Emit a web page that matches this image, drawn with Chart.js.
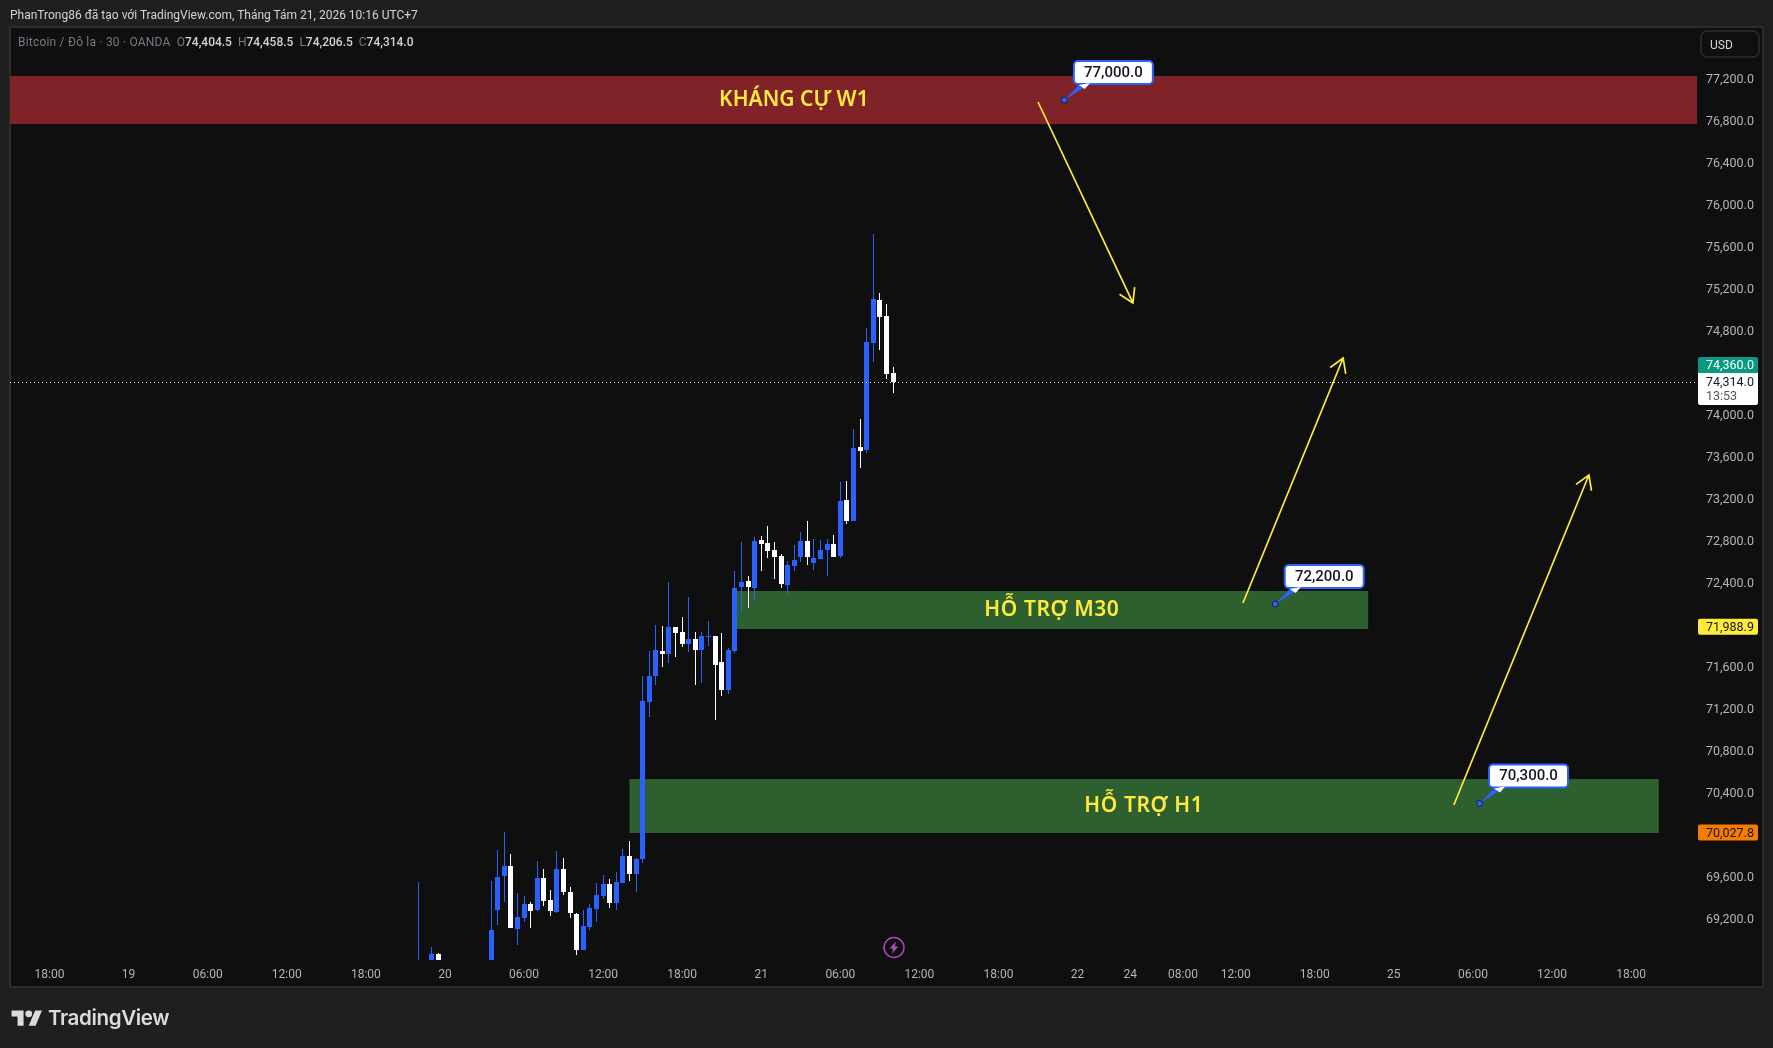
<!DOCTYPE html>
<html>
<head>
<meta charset="utf-8">
<title>BTCUSD</title>
<script src="https://cdn.jsdelivr.net/npm/chart.js@4/dist/chart.umd.min.js"></script>
<style>
  html, body { margin: 0; padding: 0; background: #1f1f1f; overflow: hidden; }
  #wrap { position: relative; width: 1773px; height: 1048px; }
  canvas { position: absolute; left: 0; top: 0; }
  .txt { position: absolute; white-space: pre; font-family: Roboto, sans-serif; font-size: 12px; }
  #head { left: 10px; top: 8px; color: #d1d4dc; }
  #legend { left: 18px; top: 35px; color: #787b86; }
  #legend span { letter-spacing: 0.2px; }
  #legend b { color: #d1d4dc; font-weight: 500; }
  #logo { position: absolute; left: 11px; top: 1007px; }
  #brand { left: 48px; top: 1005px; color: #dbdbdb; font-family: Inter, sans-serif; font-size: 20.6px; font-weight: 600; letter-spacing: -0.4px; }
</style>
</head>
<body>
<div id="wrap">
  <canvas id="btc" width="1773" height="1048"></canvas>
  <div class="txt" id="head">PhanTrong86 đã tạo với TradingView.com, Tháng Tám 21, 2026 10:16 UTC+7</div>
  <div class="txt" id="legend"><span>Bitcoin / Đô la · 30 · OANDA </span> O<b>74,404.5</b>  H<b>74,458.5</b>  L<b>74,206.5</b>  C<b>74,314.0</b></div>
  <svg id="logo" width="32" height="24" viewBox="0 0 36 28"><path fill="#dbdbdb" d="M14 22H7V11H0V4h14v18zM28 22h-8l7.5-18h8L28 22z"/><circle fill="#dbdbdb" cx="20" cy="8" r="4"/></svg>
  <div class="txt" id="brand">TradingView</div>
</div>
<script>
// 30 minute bars, slot = position on the time axis
const barSlots = [62, 64, 65, 73, 74, 75, 76, 77, 78, 79, 80, 81, 82, 83, 84, 85, 86, 87, 88, 89, 90, 91, 92, 93, 94, 95, 96, 97, 98, 99,
  100, 101, 102, 103, 104, 105, 106, 107, 108, 109, 110, 111, 112, 113, 114, 115, 116, 117, 118, 119, 120, 121, 122, 123, 124, 125, 126, 127, 128, 129,
  130, 131, 132, 133, 134];
const opens = [68700, 68700, 68867, 68700, 69286, 69610, 69705, 69105, 69210, 69343, 69286, 69591, 69381, 69267, 69676, 69457, 69248, 68905, 69124, 69295, 69419, 69533, 69352, 69543, 69800, 69629, 69771, 71266, 71514, 71752,
  71724, 71981, 71933, 71819, 71867, 71762, 71885, 71895, 71647, 71381, 71752, 72362, 72419, 72352, 72809, 72781, 72714, 72657, 72381, 72562, 72648, 72800, 72590, 72629, 72714, 72771, 72657, 73190, 72990, 73695,
  73666, 74686, 75095, 74943, 74404.5];
const highs = [69552, 68933, 68876, 69562, 69857, 70029, 69819, 69448, 69419, 69362, 69752, 69676, 69476, 69848, 69781, 69505, 69257, 69286, 69343, 69543, 69619, 69581, 69648, 69867, 69943, 69781, 71514, 71752, 72000, 71990,
  72409, 71981, 72076, 72267, 71933, 71933, 72038, 71895, 71924, 71781, 72514, 72790, 72467, 72838, 72848, 72943, 72790, 72676, 72609, 72762, 72886, 72990, 72819, 72809, 72819, 72857, 73362, 73371, 73866, 73962,
  74828, 75724, 75162, 75057, 74458.5];
const lows = [68600, 68600, 68600, 68600, 69143, 69362, 69114, 68952, 69171, 69114, 69276, 69324, 69229, 69257, 69429, 69210, 68857, 68905, 69095, 69171, 69390, 69305, 69286, 69543, 69562, 69457, 69733, 71124, 71428, 71600,
  71638, 71695, 71790, 71743, 71428, 71447, 71800, 71095, 71324, 71343, 71733, 72124, 72162, 72238, 72514, 72638, 72438, 72352, 72295, 72514, 72600, 72571, 72524, 72629, 72467, 72648, 72638, 72962, 72990, 73495,
  73638, 74505, 74619, 74343, 74206.5];
const closes = [68750, 68867, 68700, 69095, 69600, 69705, 69114, 69219, 69343, 69276, 69591, 69371, 69276, 69676, 69457, 69257, 68905, 69133, 69305, 69429, 69533, 69352, 69552, 69800, 69629, 69771, 71276, 71514, 71762, 71724,
  71981, 71924, 71819, 71867, 71762, 71895, 71895, 71619, 71381, 71762, 72352, 72409, 72362, 72800, 72771, 72705, 72648, 72390, 72571, 72619, 72800, 72648, 72638, 72714, 72771, 72648, 73181, 72990, 73685, 73657,
  74695, 75105, 74933, 74390, 74314];

const slotCount = 257;
const timeSlots = [6, 18, 30, 42, 54, 66, 78, 90, 102, 114, 126, 138, 150, 162, 170, 178, 186, 198, 210, 222, 234, 246];
const timeNames = ["18:00", "19", "06:00", "12:00", "18:00", "20", "06:00", "12:00", "18:00", "21", "06:00", "12:00", "18:00", "22", "24", "08:00", "12:00", "18:00", "25", "06:00", "12:00", "18:00"];
// 70,000 / 72,000 / 74,400 sit behind the price tags in the picture
const priceTicks = [69200, 69600, 70400, 70800, 71200, 71600, 72400, 72800, 73200, 73600, 74000, 74800, 75200, 75600, 76000, 76400, 76800, 77200];

const zoneNames = ["KHÁNG CỰ W1", "HỖ TRỢ M30", "HỖ TRỢ H1"];
const zoneTop = [77229, 72324, 70533];
const zoneBottom = [76771, 71962, 70019];
const zoneStart = [0, 110, 94];
const zoneEnd = [256, 206.1, 250.2];
const zoneLabelSlot = [118.95, 158.1, 172.05];

const arrowFromSlot = [156, 187.1, 219.1];
const arrowFromPrice = [76981, 72210, 70286];
const arrowToSlot = [170.4, 202.3, 239.6];
const arrowToPrice = [75067, 74543, 73429];

const noteSlots = [160, 192, 223];
const notePrices = [77000, 72200, 70300];

const lastClose = 74314;
const tagPrices = [71988.9, 70027.8];
const tagColors = ["#ffeb3b", "#f57c00"];
const yMin = 68809.5, yMax = 77695.2;

const BLUE = "#2962ff", WHITE = "#ffffff", YELLOW = "#ffeb3b";

const categories = [];
const bodyData = [];
const wickData = [];
const barColors = [];
for (let i = 0; i < slotCount; i++) {
    categories.push(String(i));
    const n = barSlots.indexOf(i);
    if (n < 0) {
        bodyData.push(null);
        wickData.push(null);
        barColors.push(BLUE);
    } else {
        bodyData.push([opens[n], closes[n]]);
        wickData.push([lows[n], highs[n]]);
        barColors.push(closes[n] >= opens[n] ? BLUE : WHITE);
    }
}

function fmt(v) {
    return v.toLocaleString("en-US", { minimumFractionDigits: 1, maximumFractionDigits: 1 });
}

function roundBox(c, x, y, w, h, r) {
    c.beginPath();
    c.roundRect(x, y, w, h, r);
}

// background panels and zones go under the candles
const underlay = {
    id: "underlay",
    beforeDraw(chart) {
        const c = chart.ctx;
        c.save();
        c.fillStyle = "#0f0f0f";
        c.fillRect(10, 27, 1753, 960);
        c.strokeStyle = "#2c2c2c";
        c.lineWidth = 2;
        c.strokeRect(10, 27, 1753, 960);
        c.restore();
    },
    beforeDatasetsDraw(chart) {
        const c = chart.ctx, x = chart.scales.x, y = chart.scales.y;
        // snap candles to whole pixels so the wicks stay sharp
        chart.data.datasets.forEach((ds, i) => {
            chart.getDatasetMeta(i).data.forEach(el => {
                el.x = Math.floor(el.x) + 0.5;
                el.y = Math.round(el.y);
                el.base = Math.round(el.base);
            });
        });
        c.save();
        zoneNames.forEach((name, i) => {
            c.fillStyle = i === 0 ? "#7f2329" : "#2e5f2e";
            const left = x.getPixelForValue(zoneStart[i]), right = x.getPixelForValue(zoneEnd[i]);
            const top = y.getPixelForValue(zoneTop[i]), bottom = y.getPixelForValue(zoneBottom[i]);
            c.fillRect(left, top, right - left, bottom - top);
        });
        c.restore();
    }
};

// drawings and price tags go over the candles
const overlay = {
    id: "overlay",
    afterDatasetsDraw(chart) {
        const c = chart.ctx, x = chart.scales.x, y = chart.scales.y;
        c.save();

        // last price line
        const lastY = y.getPixelForValue(lastClose);
        c.strokeStyle = "#ffffff";
        c.lineWidth = 1;
        c.setLineDash([1, 3]);
        c.beginPath();
        c.moveTo(10, Math.round(lastY) + 0.5);
        c.lineTo(1696, Math.round(lastY) + 0.5);
        c.stroke();
        c.setLineDash([]);

        // zone labels
        c.fillStyle = YELLOW;
        c.font = "600 21px 'Noto Sans'";
        c.textAlign = "center";
        c.textBaseline = "middle";
        zoneNames.forEach((name, i) => {
            const mid = (zoneTop[i] + zoneBottom[i]) / 2;
            c.letterSpacing = i === 0 ? "0px" : "0.6px";
            c.fillText(name, x.getPixelForValue(zoneLabelSlot[i]), y.getPixelForValue(mid));
        });
        c.letterSpacing = "0px";

        // arrows
        c.strokeStyle = YELLOW;
        c.lineWidth = 1.7;
        arrowFromSlot.forEach((s, i) => {
            const ax = x.getPixelForValue(s), ay = y.getPixelForValue(arrowFromPrice[i]);
            const bx = x.getPixelForValue(arrowToSlot[i]), by = y.getPixelForValue(arrowToPrice[i]);
            const ang = Math.atan2(by - ay, bx - ax);
            c.beginPath();
            c.moveTo(ax, ay);
            c.lineTo(bx, by);
            c.moveTo(bx - 16 * Math.cos(ang - 0.55), by - 16 * Math.sin(ang - 0.55));
            c.lineTo(bx, by);
            c.lineTo(bx - 16 * Math.cos(ang + 0.55), by - 16 * Math.sin(ang + 0.55));
            c.stroke();
        });

        // price notes
        noteSlots.forEach((s, i) => {
            const ax = x.getPixelForValue(s), ay = y.getPixelForValue(notePrices[i]);
            const bx = ax + 9.5, by = ay - 39;
            c.fillStyle = BLUE;
            c.beginPath();
            c.moveTo(ax, ay);
            c.lineTo(bx + 6, by + 23);
            c.lineTo(bx + 16, by + 23);
            c.closePath();
            c.fill();
            c.strokeStyle = BLUE;
            c.lineWidth = 2;
            c.fillStyle = "#ffffff";
            roundBox(c, bx, by, 79, 23, 4);
            c.fill();
            c.stroke();
            c.fillStyle = "#ffffff";
            c.beginPath();
            c.moveTo(bx + 5, by + 24);
            c.lineTo(bx + 11, by + 28);
            c.lineTo(bx + 16, by + 22);
            c.closePath();
            c.fill();
            c.fillStyle = BLUE;
            c.strokeStyle = "#10204a";
            c.lineWidth = 1;
            c.beginPath();
            c.arc(ax, ay, 3, 0, Math.PI * 2);
            c.fill();
            c.stroke();
            c.fillStyle = "#131722";
            c.font = "500 15px Roboto";
            c.textAlign = "center";
            c.textBaseline = "middle";
            c.fillText(fmt(notePrices[i]), bx + 39.5, by + 12);
        });

        // bolt icon
        c.strokeStyle = "#ab47bc";
        c.lineWidth = 1.5;
        c.beginPath();
        c.arc(894, 947.5, 10, 0, Math.PI * 2);
        c.stroke();
        c.fillStyle = "#ab47bc";
        c.beginPath();
        c.moveTo(896, 941.5);
        c.lineTo(889.5, 948.5);
        c.lineTo(893, 948.5);
        c.lineTo(892, 953.5);
        c.lineTo(898.5, 946.5);
        c.lineTo(895, 946.5);
        c.closePath();
        c.fill();

        // price axis tags
        c.textAlign = "left";
        c.textBaseline = "middle";
        c.font = "12.5px Roboto";
        c.fillStyle = "#089981";
        roundBox(c, 1698, 357, 60, 16, [2, 2, 0, 0]);
        c.fill();
        c.fillStyle = "#ffffff";
        c.fillText("74,360.0", 1706, 365.5);
        roundBox(c, 1698, 373, 60, 32, [0, 0, 2, 2]);
        c.fill();
        c.fillStyle = "#131722";
        c.fillText(fmt(lastClose), 1706, 383);
        c.fillStyle = "#555555";
        c.fillText("13:53", 1706, 397);
        tagPrices.forEach((p, i) => {
            const py = y.getPixelForValue(p);
            c.fillStyle = tagColors[i];
            roundBox(c, 1698, py - 7.5, 60, 16, 2);
            c.fill();
            c.fillStyle = "#131722";
            c.fillText(fmt(p), 1706, py + 1.5);
        });

        // USD button
        c.strokeStyle = "#2e2e2e";
        c.lineWidth = 1.5;
        roundBox(c, 1701, 31, 58, 26, 6);
        c.stroke();
        c.fillStyle = "#d1d4dc";
        c.font = "12px Roboto";
        c.fillText("USD", 1710, 45.5);
        c.restore();
    }
};

new Chart(document.getElementById("btc"), {
    type: "bar",
    data: {
        labels: categories,
        datasets: [
            {
                data: wickData,
                backgroundColor: barColors,
                barThickness: 1,
                grouped: false,
                borderWidth: 0,
                inflateAmount: 0
            },
            {
                data: bodyData,
                backgroundColor: barColors,
                barThickness: 5,
                grouped: false,
                borderWidth: 0,
                inflateAmount: 0
            }
        ]
    },
    options: {
        responsive: false,
        animation: false,
        layout: {
            padding: { left: 10, right: 10, top: 27, bottom: 61 }
        },
        scales: {
            x: {
                type: "category",
                offset: false,
                grid: { display: false, drawTicks: false },
                border: { display: false },
                afterFit: function (scale) {
                    scale.height = 27;
                },
                afterBuildTicks: function (scale) {
                    scale.ticks = timeSlots.map(v => ({ value: v }));
                },
                ticks: {
                    autoSkip: false,
                    maxRotation: 0,
                    padding: 8,
                    color: "#b2b5be",
                    font: { family: "Roboto", size: 12 },
                    callback: function (value) {
                        return timeNames[timeSlots.indexOf(value)];
                    }
                }
            },
            y: {
                position: "right",
                min: yMin,
                max: yMax,
                grid: { display: false, drawTicks: false },
                border: { display: false },
                afterFit: function (scale) {
                    scale.width = 66;
                },
                afterBuildTicks: function (scale) {
                    scale.ticks = priceTicks.map(v => ({ value: v }));
                },
                ticks: {
                    autoSkip: false,
                    padding: 9,
                    labelOffset: 1,
                    color: "#b2b5be",
                    font: { family: "Roboto", size: 12.5 },
                    callback: function (value) {
                        return fmt(value);
                    }
                }
            }
        },
        plugins: {
            legend: { display: false },
            title: { display: false },
            tooltip: { enabled: false }
        }
    },
    plugins: [underlay, overlay]
});
</script>
</body>
</html>
